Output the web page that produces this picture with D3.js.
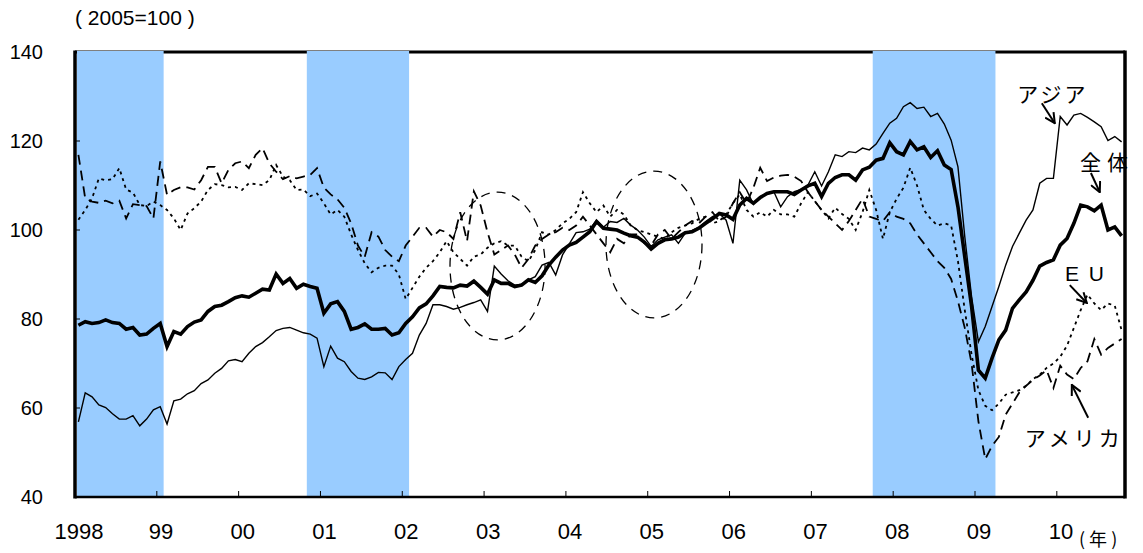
<!DOCTYPE html>
<html><head><meta charset="utf-8">
<script src="https://cdn.jsdelivr.net/npm/d3@7"></script>
<style>
html,body{margin:0;padding:0;background:#fff;}
svg{display:block;}
text{font-family:"Liberation Sans",Arial,sans-serif;fill:#000;}
.jp{font-family:"Noto Sans CJK JP","Noto Sans CJK SC",sans-serif;}
</style>
</head><body>
<svg id="chart" width="1143" height="553"></svg>
<script>
// Months: Jan 1998 (index 0) .. Oct 2010 (index 153)
const startYear = 1998;
const yearLabels = ["1998","99","00","01","02","03","04","05","06","07","08","09","10"];
const yTicks = [40,60,80,100,120,140];

// Recession periods (month index start, end)
const recessions = [[0,13],[34,49],[117,135]];

const total = [
78.6,79.4,79.0,79.2,79.8,79.2,79.0,77.7,78.1,76.4,
76.6,77.9,79.0,73.8,77.2,76.6,78.3,79.3,79.8,81.7,
82.8,83.1,83.9,84.8,85.2,84.9,85.8,86.7,86.5,90.1,
88.0,89.1,86.9,87.8,87.3,86.9,81.3,83.4,83.9,81.7,
77.7,78.1,78.9,77.7,77.7,77.9,76.4,76.9,79.0,80.5,
82.5,83.4,85.2,87.3,87.1,87.0,87.6,87.4,88.5,87.1,
85.6,88.8,88.0,88.0,87.3,87.6,88.8,88.2,89.7,92.1,
93.9,95.5,96.6,97.2,98.4,99.6,101.9,100.4,100.2,100.0,
99.3,98.7,98.4,97.3,95.7,97.0,97.8,98.0,98.4,99.4,
99.6,100.4,101.5,102.5,103.7,103.4,102.4,105.6,107.1,106.0,
107.3,108.2,108.6,108.6,108.6,108.0,109.0,109.9,110.5,107.5,
110.5,111.8,112.4,112.4,111.2,113.5,114.1,115.7,116.1,119.6,
117.6,116.9,119.9,118.0,118.7,116.3,117.8,114.6,113.6,105.2,
94.0,82.8,68.5,66.7,71.2,75.3,77.5,82.4,84.3,86.1,
88.7,91.9,92.7,93.3,96.6,98.1,101.5,105.6,105.2,104.3,
105.6,100.0,100.7,98.7];

const asia = [
56.9,63.4,62.5,60.7,60.1,58.7,57.5,57.5,58.3,56.0,
57.5,59.6,60.3,56.4,61.6,62.0,63.2,63.9,65.5,66.3,
67.8,68.9,70.6,70.9,70.4,72.3,73.8,74.7,76.0,77.4,
77.9,78.1,77.5,76.9,76.6,75.7,69.3,73.9,71.2,70.4,
68.2,66.7,66.4,67.0,68.0,67.9,66.4,69.3,70.9,72.3,
76.4,79.0,83.2,83.2,82.8,82.2,82.6,83.2,83.7,84.3,
81.7,91.9,90.1,88.6,87.6,87.8,88.8,89.5,92.1,92.7,
89.9,94.4,96.9,99.4,99.6,100.2,102.2,100.6,101.9,101.7,
102.6,101.1,100.0,98.4,96.3,97.8,98.4,98.9,97.0,99.3,
99.9,100.6,101.9,103.0,103.7,102.2,97.0,111.2,109.0,105.8,
107.5,108.2,108.6,105.2,107.5,108.6,109.1,110.1,113.1,109.9,
113.1,116.9,116.5,117.6,117.4,118.4,118.0,119.3,121.7,124.0,
125.1,127.7,128.6,127.3,127.6,125.5,126.2,123.8,120.2,114.2,
98.5,85.0,74.9,78.3,82.8,87.3,92.1,96.3,99.3,102.2,
104.5,110.5,111.6,111.6,125.5,123.6,125.8,126.2,125.3,124.3,
123.2,120.1,121.0,119.8];

const america = [
116.9,107.1,106.4,106.1,106.6,106.0,106.6,102.6,105.8,105.6,
105.4,102.6,115.4,107.9,109.0,109.6,109.6,109.1,111.2,114.2,
114.2,110.5,113.5,115.0,115.4,113.9,116.9,118.4,115.0,113.1,
111.4,112.1,111.6,112.0,112.4,113.9,109.5,108.0,106.9,105.0,
101.5,96.5,94.0,99.5,98.5,95.5,94.0,93.0,96.5,98.5,
100.5,100.5,98.5,100.0,99.5,98.0,104.0,97.5,108.7,105.5,
99.5,94.5,95.5,96.5,94.5,91.5,93.5,96.5,98.0,99.0,
99.5,100.5,100.0,101.0,103.0,101.0,99.0,97.0,95.0,98.0,
97.0,99.0,99.0,97.0,96.5,99.0,100.0,98.0,99.5,101.0,
102.0,101.5,103.0,104.0,102.0,103.0,106.0,108.5,106.0,109.5,
114.0,111.0,111.8,112.2,112.4,112.0,111.0,108.5,106.5,104.5,
103.0,101.5,100.0,102.0,104.5,107.0,103.0,102.5,102.0,104.0,
103.0,102.5,101.5,99.0,97.0,95.0,93.0,91.5,89.0,84.0,
78.0,70.0,57.0,48.5,51.5,53.5,58.5,61.0,63.5,65.0,
66.3,67.3,68.5,64.5,69.5,67.5,66.5,69.0,70.5,75.5,
72.0,73.5,74.5,75.5];

const eu = [
102.3,104.5,107.1,111.6,111.2,111.4,113.9,109.1,108.4,105.6,
105.4,106.4,105.6,104.5,102.6,100.0,103.7,104.9,106.4,109.0,
110.3,110.1,109.6,109.7,109.0,110.5,110.3,110.1,111.2,114.6,
112.0,111.2,109.0,109.1,107.6,108.2,106.0,103.5,104.5,103.0,
99.0,95.5,92.5,90.5,91.5,92.0,92.0,90.0,84.5,87.0,
89.5,91.5,93.0,95.0,97.5,95.0,93.5,92.0,94.0,94.5,
96.0,97.0,97.5,96.5,96.5,94.0,93.0,95.5,99.5,99.0,
100.0,101.5,102.5,104.0,108.5,106.0,104.0,105.5,103.0,104.5,
103.5,101.0,100.0,99.5,99.0,98.5,98.0,99.5,100.5,101.0,
101.5,102.5,103.0,101.5,102.0,103.5,106.0,108.0,104.5,103.0,
104.0,103.0,104.5,103.5,103.5,103.0,106.0,108.5,106.5,104.5,
102.6,105.0,103.6,102.5,100.0,104.0,109.0,104.5,98.0,104.0,
107.0,109.5,114.0,110.0,104.5,102.5,101.0,101.5,101.0,93.0,
82.0,72.0,64.0,60.5,59.5,61.0,63.0,63.5,64.0,65.0,
66.5,67.5,69.0,70.0,71.5,74.0,78.0,82.0,85.5,83.5,
82.0,83.5,83.0,77.5];

// Annotations in data units: [month, value]
const ellipses = [
  {cx:61.97, cy:91.9, rx:6.97, ry:16.6},
  {cx:84.92, cy:96.74, rx:7.04, ry:16.5}
];
const seriesLabels = [
  {text:"アジア", at:[138.2,128.8], from:[141.8,128.5], to:[143.7,124.0], spacing:3},
  {text:"全体",   at:[147.4,113.5], from:[149.0,112.8], to:[150.3,108.5], spacing:6},
  {text:"E U",   at:[145.2,88.5],  from:[145.9,87.6],  to:[148.4,83.6], spacing:2, latin:true},
  {text:"アメリカ", at:[139.3,51.5], from:[148.6,57.8], to:[146.2,65.2], spacing:4}
];

const W = 1143, H = 553;
const margin = {left:75, right:18, top:52, bottom:56};
const nMonths = total.length; // 154
const x = d3.scaleLinear().domain([0, nMonths]).range([margin.left, W - margin.right]);
const y = d3.scaleLinear().domain([40, 140]).range([H - margin.bottom, margin.top]);

const svg = d3.select("#chart");

// top frame line (under bands)
svg.append("line").attr("x1", x(0)).attr("x2", x(nMonths)).attr("y1", y(140)).attr("y2", y(140))
  .attr("stroke","#000").attr("stroke-width",3);

// recession bands
svg.append("g").selectAll("rect").data(recessions).join("rect")
  .attr("x", d => x(d[0]) + (d[0] === 0 ? 2 : 0))
  .attr("width", d => x(d[1]) - x(d[0]) - (d[0] === 0 ? 2 : 0))
  .attr("y", y(140) - 1).attr("height", y(40) - y(140) + 1)
  .attr("fill", "#99ccff");

// bottom axis with inward ticks
const yearTicks = d3.range(1, yearLabels.length).map(k => k * 12);
svg.append("g").selectAll("line").data(yearTicks).join("line")
  .attr("x1", d => x(d)).attr("x2", d => x(d))
  .attr("y1", y(40)).attr("y2", y(40) - 6)
  .attr("stroke", "#000").attr("stroke-width", 1);
svg.append("g").selectAll("text").data(yearLabels).join("text")
  .attr("x", (d, k) => x(k * 12 + 0.6)).attr("y", y(40) + 42)
  .attr("text-anchor", "middle").attr("font-size", 22).text(d => d);

// left axis ticks (inward)
svg.append("g").selectAll("line").data(yTicks.filter(v => v > 40 && v < 140)).join("line")
  .attr("x1", x(0)).attr("x2", x(0) + 5)
  .attr("y1", d => y(d)).attr("y2", d => y(d))
  .attr("stroke", "#000").attr("stroke-width", 1);
svg.append("g").selectAll("text").data(yTicks).join("text")
  .attr("x", 43).attr("y", d => y(d) + 7)
  .attr("text-anchor", "end").attr("font-size", 20).text(d => d);

// unit labels
svg.append("text").attr("x", 75).attr("y", 25).attr("font-size", 21).text("( 2005=100 )");
svg.append("text").attr("class","jp").attr("x", 1079).attr("y", 546).attr("font-size", 18).text("( 年 )");

// lines
const line = d3.line().x((d, i) => x(i + 0.5)).y(d => y(d));
const series = [
  {data: eu, width: 1.8, dash: "3,4"},
  {data: america, width: 1.8, dash: "10,6"},
  {data: asia, width: 1.4, dash: null},
  {data: total, width: 3.6, dash: null}
];
svg.append("g").selectAll("path").data(series).join("path")
  .attr("d", d => line(d.data))
  .attr("fill", "none").attr("stroke", "#000")
  .attr("stroke-width", d => d.width)
  .attr("stroke-dasharray", d => d.dash)
  .attr("stroke-linejoin", "miter");

// ellipses
svg.append("g").selectAll("ellipse").data(ellipses).join("ellipse")
  .attr("cx", d => x(d.cx)).attr("cy", d => y(d.cy))
  .attr("rx", d => x(d.cx + d.rx) - x(d.cx)).attr("ry", d => y(d.cy - d.ry) - y(d.cy))
  .attr("fill", "none").attr("stroke", "#000").attr("stroke-width", 1.3)
  .attr("stroke-dasharray", "9,7");

// frame: left, right, bottom
svg.append("line").attr("x1", x(0)).attr("x2", x(0)).attr("y1", y(140) - 1.5).attr("y2", y(40) + 1.5)
  .attr("stroke","#000").attr("stroke-width",3.5);
svg.append("line").attr("x1", x(nMonths)).attr("x2", x(nMonths)).attr("y1", y(140) - 1.5).attr("y2", y(40) + 1.5)
  .attr("stroke","#000").attr("stroke-width",3.5);
svg.append("line").attr("x1", x(0)).attr("x2", x(nMonths)).attr("y1", y(40)).attr("y2", y(40))
  .attr("stroke","#000").attr("stroke-width",2.5);

// arrow marker
svg.append("defs").append("marker").attr("id","arr")
  .attr("viewBox","0 0 12 12").attr("refX",11).attr("refY",6)
  .attr("markerWidth",12).attr("markerHeight",12).attr("markerUnits","userSpaceOnUse")
  .attr("orient","auto")
  .append("path").attr("d","M1,1 L11,6 L1,11").attr("fill","none").attr("stroke","#000").attr("stroke-width",2);

const lab = svg.append("g");
seriesLabels.forEach(s => {
  lab.append("line")
    .attr("x1", x(s.from[0])).attr("y1", y(s.from[1]))
    .attr("x2", x(s.to[0])).attr("y2", y(s.to[1]))
    .attr("stroke","#000").attr("stroke-width",2).attr("marker-end","url(#arr)");
  lab.append("text").attr("class", s.latin ? null : "jp")
    .attr("x", x(s.at[0])).attr("y", y(s.at[1]))
    .attr("font-size", 21).attr("letter-spacing", s.spacing)
    .text(s.text);
});
</script>
</body></html>
